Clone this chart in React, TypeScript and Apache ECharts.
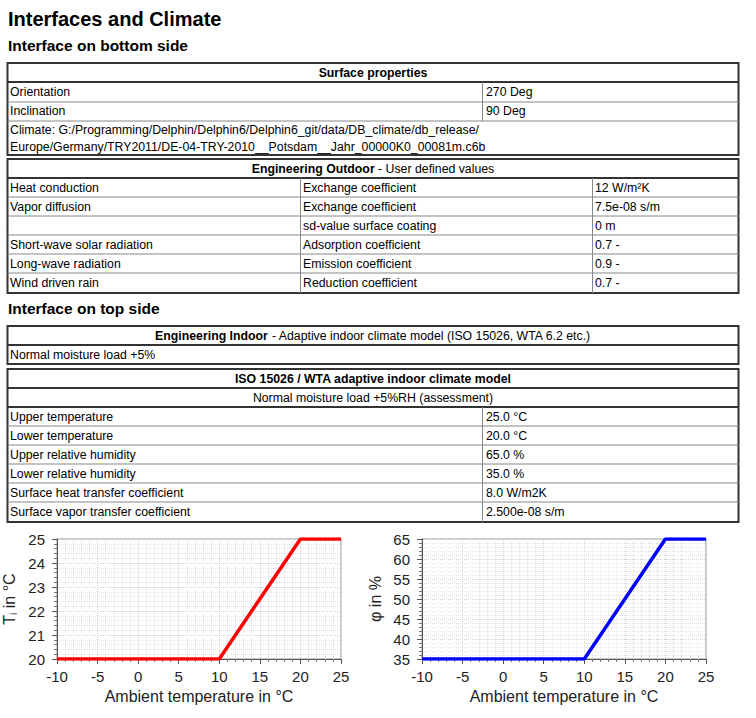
import React, { useEffect, useRef } from "react";
import * as echarts from "echarts";

// ---------- data ----------
const pageTitle = "Interfaces and Climate";
const bottomSideTitle = "Interface on bottom side";
const topSideTitle = "Interface on top side";

const surfaceHeader = "Surface properties";
const surfaceLabels = ["Orientation", "Inclination"];
const surfaceValues = ["270 Deg", "90 Deg"];
const climateLines = [
  "Climate: G:/Programming/Delphin/Delphin6/Delphin6_git/data/DB_climate/db_release/",
  "Europe/Germany/TRY2011/DE-04-TRY-2010__Potsdam__Jahr_00000K0_00081m.c6b",
];

const outdoorHeaderBold = "Engineering Outdoor";
const outdoorHeaderRest = " - User defined values";
const outdoorProcess = [
  "Heat conduction",
  "Vapor diffusion",
  "",
  "Short-wave solar radiation",
  "Long-wave radiation",
  "Wind driven rain",
];
const outdoorParam = [
  "Exchange coefficient",
  "Exchange coefficient",
  "sd-value surface coating",
  "Adsorption coefficient",
  "Emission coefficient",
  "Reduction coefficient",
];
const outdoorValue = ["12 W/m²K", "7.5e-08 s/m", "0 m", "0.7 -", "0.9 -", "0.7 -"];

const indoorHeaderBold = "Engineering Indoor";
const indoorHeaderRest = " - Adaptive indoor climate model (ISO 15026, WTA 6.2 etc.)";
const indoorRow = "Normal moisture load +5%";

const isoHeader = "ISO 15026 / WTA adaptive indoor climate model";
const isoSubHeader = "Normal moisture load +5%RH (assessment)";
const isoLabels = [
  "Upper temperature",
  "Lower temperature",
  "Upper relative humidity",
  "Lower relative humidity",
  "Surface heat transfer coefficient",
  "Surface vapor transfer coefficient",
];
const isoValues = ["25.0 °C", "20.0 °C", "65.0 %", "35.0 %", "8.0 W/m2K", "2.500e-08 s/m"];

// chart series
const ambientTemp = [-10, 10, 20, 25];
const indoorTemp = [20, 20, 25, 25];
const indoorRH = [35, 35, 65, 65];

const FONT = "'Liberation Sans', Arial, sans-serif";

export default function App() {
  const ref = useRef<HTMLDivElement>(null);

  useEffect(() => {
    if (!ref.current) return;
    const chart = echarts.init(ref.current, undefined, { renderer: "svg" });

    const L = 7.5;
    const R = 738.5;
    const W = R - L;
    const g: any[] = [];

    const txt = (x: number, y: number, text: string, o: any = {}) =>
      g.push({
        type: "text",
        silent: true,
        z: 10,
        style: {
          x,
          y,
          text,
          fill: "#000",
          fontFamily: FONT,
          fontSize: o.fontSize || 12.3,
          fontWeight: o.fontWeight || "normal",
          align: o.align || "left",
          verticalAlign: "middle",
          rich: o.rich,
        },
      });
    const box = (y1: number, y2: number) =>
      g.push({
        type: "rect",
        silent: true,
        z: 5,
        shape: { x: L, y: y1, width: W, height: y2 - y1 },
        style: { fill: "#fff", stroke: "#333", lineWidth: 2 },
      });
    const hl = (y: number, dark = false) =>
      g.push({
        type: "line",
        silent: true,
        z: 6,
        shape: { x1: L, y1: y, x2: R, y2: y },
        style: { stroke: dark ? "#333" : "#888", lineWidth: dark ? 2 : 1 },
      });
    const vl = (x: number, y1: number, y2: number) =>
      g.push({
        type: "line",
        silent: true,
        z: 6,
        shape: { x1: x, y1, x2: x, y2 },
        style: { stroke: "#888", lineWidth: 1 },
      });

    const CX = (L + R) / 2;
    const boldRich = { b: { fontWeight: "bold", fontFamily: FONT, fontSize: 12.3, fill: "#000" } };

    // titles
    txt(8, 19, pageTitle, { fontSize: 20, fontWeight: "bold" });
    txt(8, 45, bottomSideTitle, { fontSize: 15.5, fontWeight: "bold" });
    txt(8, 308, topSideTitle, { fontSize: 15.5, fontWeight: "bold" });

    // table 1
    box(63, 155);
    hl(82, true);
    hl(102);
    hl(121);
    vl(482.5, 82, 121);
    txt(CX, 72.5, surfaceHeader, { fontWeight: "bold", align: "center" });
    surfaceLabels.forEach((s, i) => {
      txt(10, 92 + 19 * i, s);
      txt(486, 92 + 19 * i, surfaceValues[i]);
    });
    climateLines.forEach((s, i) => txt(10, 130 + 17 * i, s));

    // table 2
    box(159, 293);
    hl(178, true);
    for (let i = 1; i < 6; i++) hl(178 + 19 * i);
    vl(300.5, 178, 293);
    vl(592.5, 178, 293);
    txt(CX, 168.5, `{b|${outdoorHeaderBold}}${outdoorHeaderRest}`, { align: "center", rich: boldRich });
    outdoorProcess.forEach((s, i) => {
      const y = 187.5 + 19 * i;
      if (s) txt(10, y, s);
      txt(303, y, outdoorParam[i]);
      txt(595, y, outdoorValue[i]);
    });

    // table 3
    box(326, 364);
    hl(345, true);
    txt(CX, 335.5, `{b|${indoorHeaderBold}}${indoorHeaderRest}`, { align: "center", rich: boldRich });
    txt(10, 354.5, indoorRow);

    // table 4
    box(369, 522);
    hl(388, true);
    hl(407, true);
    for (let i = 1; i < 6; i++) hl(407 + 19 * i);
    vl(482.5, 407, 522);
    txt(CX, 378.5, isoHeader, { fontWeight: "bold", align: "center" });
    txt(CX, 397.5, isoSubHeader, { align: "center" });
    isoLabels.forEach((s, i) => {
      const y = 416.5 + 19 * i;
      txt(10, y, s);
      txt(486, y, isoValues[i]);
    });

    const axisText = { color: "#222", fontSize: 15, fontFamily: FONT };
    const xAxis = (gi: number) => ({
      type: "value",
      gridIndex: gi,
      min: -10,
      max: 25,
      interval: 5,
      name: "Ambient temperature in °C",
      nameLocation: "middle",
      nameGap: 29,
      nameTextStyle: { ...axisText, fontSize: 16 },
      axisLine: { onZero: false, lineStyle: { color: "#555", width: 1 } },
      axisTick: { show: true, length: 5, lineStyle: { color: "#555" } },
      minorTick: { show: true, splitNumber: 5, length: 3, lineStyle: { color: "#777" } },
      axisLabel: { ...axisText, margin: 10 },
      splitLine: { show: true, lineStyle: { color: "#d2d2d2", type: "dotted" } },
      minorSplitLine: { show: true, lineStyle: { color: "#e2e2e2", type: "dotted" } },
    });
    const yAxis = (gi: number, min: number, max: number, interval: number, name: string, rich?: any) => ({
      type: "value",
      gridIndex: gi,
      min,
      max,
      interval,
      name,
      nameLocation: "middle",
      nameRotate: 90,
      nameGap: 39,
      nameTextStyle: { ...axisText, fontSize: 16, rich },
      axisLine: { show: true, onZero: false, lineStyle: { color: "#555", width: 1 } },
      axisTick: { show: true, length: 5, lineStyle: { color: "#555" } },
      minorTick: { show: true, splitNumber: 5, length: 3, lineStyle: { color: "#777" } },
      axisLabel: { ...axisText, margin: 12 },
      splitLine: { show: true, lineStyle: { color: "#d2d2d2", type: "dotted" } },
      minorSplitLine: { show: true, lineStyle: { color: "#e2e2e2", type: "dotted" } },
    });

    const subRich = {
      a: { fontSize: 16, fontFamily: FONT, color: "#222" },
      s: { fontSize: 10, fontFamily: FONT, color: "#222", padding: [8, 0, 0, 0] },
    };

    chart.setOption({
      animation: false,
      backgroundColor: "#fff",
      grid: [
        { left: 57, top: 539, width: 284, height: 120, show: true, borderColor: "#999", borderWidth: 1, backgroundColor: "#fff" },
        { left: 422, top: 539, width: 284, height: 120, show: true, borderColor: "#999", borderWidth: 1, backgroundColor: "#fff" },
      ],
      xAxis: [xAxis(0), xAxis(1)],
      yAxis: [
        yAxis(0, 20, 25, 1, "{a|T}{s|i}{a| in °C}", subRich),
        yAxis(1, 35, 65, 5, "φ in %"),
      ],
      series: [
        {
          type: "line",
          xAxisIndex: 0,
          yAxisIndex: 0,
          data: ambientTemp.map((x, i) => [x, indoorTemp[i]]),
          symbol: "none",
          lineStyle: { color: "#ff0000", width: 3.5 },
          z: 5,
        },
        {
          type: "line",
          xAxisIndex: 1,
          yAxisIndex: 1,
          data: ambientTemp.map((x, i) => [x, indoorRH[i]]),
          symbol: "none",
          lineStyle: { color: "#0000ff", width: 3.5 },
          z: 5,
        },
      ],
      graphic: g,
    });

    return () => chart.dispose();
  }, []);

  return (
    <div
      ref={ref}
      style={{ position: "absolute", left: 0, top: 0, width: 756, height: 718 }}
    />
  );
}
